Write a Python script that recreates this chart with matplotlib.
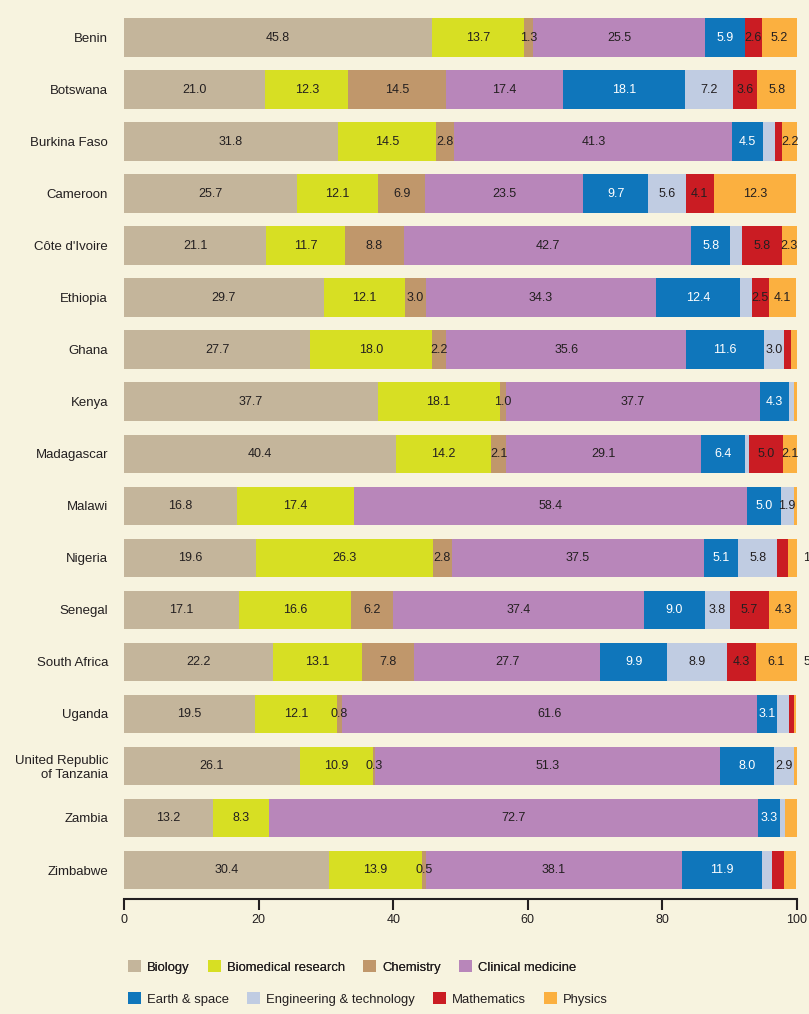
import matplotlib
matplotlib.use('Agg')
import matplotlib.pyplot as plt
from matplotlib.patches import Patch

plt.rcParams['font.family'] = ['Liberation Sans', 'DejaVu Sans']

# 国家
countries = ["Benin", "Botswana", "Burkina Faso", "Cameroon", "Côte d'Ivoire", "Ethiopia",
             "Ghana", "Kenya", "Madagascar", "Malawi", "Nigeria", "Senegal", "South Africa",
             "Uganda", "United Republic\nof Tanzania", "Zambia", "Zimbabwe"]

# 各学科占比 (%)
biology = [45.8, 21.0, 31.8, 25.7, 21.1, 29.7, 27.7, 37.7, 40.4, 16.8, 19.6, 17.1, 22.2, 19.5, 26.1, 13.2, 30.4]
biomedical = [13.7, 12.3, 14.5, 12.1, 11.7, 12.1, 18.0, 18.1, 14.2, 17.4, 26.3, 16.6, 13.1, 12.1, 10.9, 8.3, 13.9]
chemistry = [1.3, 14.5, 2.8, 6.9, 8.8, 3.0, 2.2, 1.0, 2.1, 0, 2.8, 6.2, 7.8, 0.8, 0.3, 0, 0.5]
clinical = [25.5, 17.4, 41.3, 23.5, 42.7, 34.3, 35.6, 37.7, 29.1, 58.4, 37.5, 37.4, 27.7, 61.6, 51.3, 72.7, 38.1]
earth = [5.9, 18.1, 4.5, 9.7, 5.8, 12.4, 11.6, 4.3, 6.4, 5.0, 5.1, 9.0, 9.9, 3.1, 8.0, 3.3, 11.9]
engineering = [0, 7.2, 1.8, 5.6, 1.8, 1.8, 3.0, 0.8, 0.7, 1.9, 5.8, 3.8, 8.9, 1.7, 2.9, 0.7, 1.5]
mathematics = [2.6, 3.6, 1.1, 4.1, 5.8, 2.5, 1.0, 0, 5.0, 0, 1.5, 5.7, 4.3, 0.8, 0, 0, 1.8]
physics = [5.2, 5.8, 2.2, 12.3, 2.3, 4.1, 0.9, 0.4, 2.1, 0.5, 1.4, 4.3, 6.1, 0.3, 0.5, 1.8, 1.8]

series = [
    ("Biology", biology, '#c4b59b'),
    ("Biomedical research", biomedical, '#d7df23'),
    ("Chemistry", chemistry, '#c0976b'),
    ("Clinical medicine", clinical, '#b886ba'),
    ("Earth & space", earth, '#0f76bb'),
    ("Engineering & technology", engineering, '#c0cce2'),
    ("Mathematics", mathematics, '#ca1c23'),
    ("Physics", physics, '#fbb040'),
]

# 图外被截断的标签
stray = {"Nigeria": "1.4", "South Africa": "5.9"}

bg = '#f7f3df'
dark = '#231f20'

fig = plt.figure(figsize=(8.09, 10.14), dpi=100, facecolor=bg)
ax = fig.add_axes([124 / 809, 1 - 899 / 1014, 673 / 809, (899 - 11.5) / 1014])
ax.set_facecolor(bg)

ys = list(range(len(countries)))
left = [0.0] * len(countries)
for name, vals, color in series:
    ax.barh(ys, vals, left=left, height=0.74, color=color, edgecolor='none')
    for i, v in enumerate(vals):
        show = v >= 1.9 or (name == "Chemistry" and v > 0)
        if show:
            tc = 'white' if name == "Earth & space" else dark
            ax.text(left[i] + v / 2, i, f"{v:.1f}", ha='center', va='center',
                    fontsize=9, color=tc)
        left[i] += v

for i, c in enumerate(countries):
    if c in stray:
        ax.text(100.9, i, stray[c], ha='left', va='center', fontsize=9, color=dark, clip_on=False)

ax.set_xlim(0, 100)
ax.set_ylim(len(countries) - 1 + 0.557, -0.5)
ax.set_yticks(ys)
ax.set_yticklabels(countries, fontsize=9.5, color=dark, ha='right', linespacing=1.15)
ax.tick_params(axis='y', length=0, pad=11.5)
ax.set_xticks([0, 20, 40, 60, 80, 100])
ax.tick_params(axis='x', direction='out', length=8, width=1.5, color=dark, labelsize=9, labelcolor=dark, pad=3)
for s in ['left', 'top', 'right']:
    ax.spines[s].set_visible(False)
ax.spines['bottom'].set_linewidth(1.5)
ax.spines['bottom'].set_color(dark)

handles = [Patch(facecolor=c, edgecolor='none', label=n) for n, v, c in series]
kw = dict(frameon=False, fontsize=9.4, handlelength=1.0, handleheight=1.0, handletextpad=0.45,
          columnspacing=1.4, borderpad=0, borderaxespad=0, ncol=4, loc='center left',
          labelcolor=dark)
leg1 = fig.legend(handles=handles[:4], bbox_to_anchor=(128 / 809, 1 - 967 / 1014), **kw)
fig.add_artist(leg1)
fig.legend(handles=handles[4:], bbox_to_anchor=(128 / 809, 1 - 999 / 1014), **kw)

fig.savefig('out.png', dpi=100, facecolor=bg)
